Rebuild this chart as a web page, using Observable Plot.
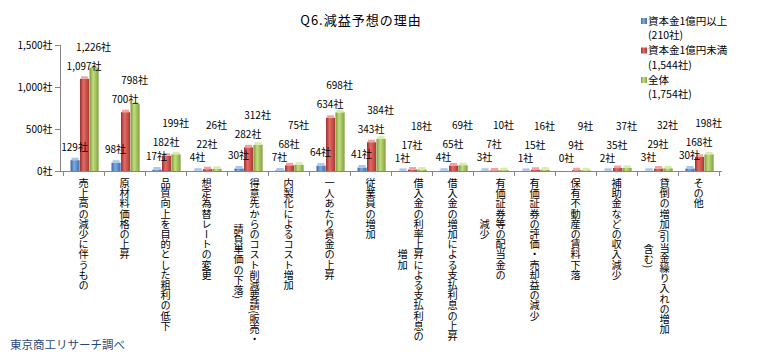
<!DOCTYPE html>
<html><head><meta charset="utf-8">
<script src="https://cdn.jsdelivr.net/npm/d3@7"></script>
<script src="https://cdn.jsdelivr.net/npm/@observablehq/plot@0.6"></script>
<style>body{margin:0;background:#fff} svg{display:block}</style>
</head><body><div id="chart"></div>
<script>
// ---- data ----
const categories = [
  "売上高の減少に伴うもの",
  "原材料価格の上昇",
  "品質向上を目的とした粗利の低下",
  "想定為替レートの変更",
  "得意先からのコスト削減要請(販売・\n請負単価の下落)",
  "内製化によるコスト増加",
  "一人あたり賃金の上昇",
  "従業員の増加",
  "借入金の利率上昇による支払利息の\n増加",
  "借入金の増加による支払利息の上昇",
  "有価証券等の配当金の\n減少",
  "有価証券の評価・売却益の減少",
  "保有不動産の賃料下落",
  "補助金などの収入減少",
  "貸倒の増加(引当金繰り入れの増加\n含む)",
  "その他"
];
const seriesNames = ["資本金1億円以上", "資本金1億円未満", "全体"];
const seriesTotals = ["(210社)", "(1,544社)", "(1,754社)"];
const largeCap = [129, 98, 17, 4, 30, 7, 64, 41, 1, 4, 3, 1, 0, 2, 3, 30];
const smallCap = [1097, 700, 182, 22, 282, 68, 634, 343, 17, 65, 7, 15, 9, 35, 29, 168];
const allCos   = [1226, 798, 199, 26, 312, 75, 698, 384, 18, 69, 10, 16, 9, 37, 32, 198];
const yTicks = [0, 500, 1000, 1500];
const chartTitle = "Q6.減益予想の理由";
const sourceNote = "東京商工リサーチ調べ";

// ---- layout ----
const W = 778, H = 362, mT = 45, mB = 191, mL = 60, mR = 56;
const yMax = 1500;
const step = (W - mL - mR) / categories.length;
const k = (H - mT - mB) / yMax; // px per unit
const FONT = "'Noto Sans CJK JP', 'Noto Sans', sans-serif";
const AXIS = "#868686";

const seriesValues = [largeCap, smallCap, allCos];
const seriesStyle = [
  {id: "gBlue",  stops: ["#3a659f", "#7eaae2", "#3f6eab"], cap: "#a9c6ec", x0: 7.5, x1: 17},
  {id: "gRed",   stops: ["#9c312e", "#e46a66", "#a83835"], cap: "#f0a3a1", x0: 17,  x1: 26.5},
  {id: "gGreen", stops: ["#7b9838", "#c2de7e", "#82a03f"], cap: "#d9ecae", x0: 26.5, x1: 36}
];

// label placement (stagger like the original)
const rows = seriesValues.map(() => []);
categories.forEach((cat, i) => {
  const b = largeCap[i] + 13 / k;
  const r = Math.max(smallCap[i] + 13 / k, b + 13 / k);
  const g = Math.max(allCos[i] + 13 / k, r + 19 / k);
  rows[0].push({cat, value: largeCap[i], ly: b});
  rows[1].push({cat, value: smallCap[i], ly: r});
  rows[2].push({cat, value: allCos[i], ly: g});
});
const fmt = d3.format(",");

function gradients() {
  const g = d3.create("svg:g");
  const defs = g.append("defs");
  seriesStyle.forEach(s => {
    const lg = defs.append("linearGradient").attr("id", s.id).attr("x1", 0).attr("x2", 1).attr("y1", 0).attr("y2", 0);
    lg.append("stop").attr("offset", "0%").attr("stop-color", s.stops[0]);
    lg.append("stop").attr("offset", "40%").attr("stop-color", s.stops[1]);
    lg.append("stop").attr("offset", "100%").attr("stop-color", s.stops[2]);
  });
  return g.node();
}

function axesLines(index, scales) {
  const x = scales.x, y = scales.y;
  const bw = typeof x.bandwidth === "function" ? x.bandwidth() : (x.bandwidth || 0);
  const g = d3.create("svg:g").attr("stroke", AXIS).attr("fill", "none").attr("shape-rendering", "crispEdges");
  const y0 = y(0);
  g.append("line").attr("x1", mL).attr("x2", mL).attr("y1", y(yMax)).attr("y2", y0);
  g.append("line").attr("x1", mL).attr("x2", W - mR).attr("y1", y0).attr("y2", y0);
  const bounds = categories.map(c => x(c)).concat([x(categories[categories.length - 1]) + bw]);
  bounds.forEach(bx => g.append("line").attr("x1", bx).attr("x2", bx).attr("y1", y0).attr("y2", y0 + 5));
  return g.node();
}

function categoryLabels(index, scales) {
  const x = scales.x;
  const bw = typeof x.bandwidth === "function" ? x.bandwidth() : (x.bandwidth || 0);
  const PITCH = 10.2, TOP = 178;
  const g = d3.create("svg:g").attr("font-family", FONT).attr("font-size", PITCH).attr("fill", "#000");
  categories.forEach(cat => {
    const lines = cat.split("\n");
    const cx = x(cat) + bw / 2;
    const maxLen = d3.max(lines, l => [...l].length);
    lines.forEach((line, j) => {
      const off = lines.length === 1 ? 0 : (j === 0 ? 7 : -9);
      g.append("text")
        .attr("x", cx + off)
        .attr("y", TOP + (maxLen - [...line].length) * PITCH / 2)
        .attr("text-anchor", "start")
        .style("writing-mode", "vertical-rl")
        .text(line);
    });
  });
  return g.node();
}

function decorations() {
  const g = d3.create("svg:g").attr("font-family", FONT).attr("fill", "#000").attr("text-anchor", "start");
  g.append("text").attr("x", 361).attr("y", 20).attr("dy", "0.35em").attr("text-anchor", "middle")
    .attr("font-size", 13).attr("letter-spacing", 1).text(chartTitle);
  seriesNames.forEach((name, i) => {
    const y0 = 21 + i * 29.5;
    g.append("rect").attr("x", 641).attr("y", y0 - 3).attr("width", 6).attr("height", 6)
      .attr("fill", `url(#${seriesStyle[i].id})`);
    g.append("text").attr("x", 648).attr("y", y0).attr("dy", "0.35em").attr("font-size", 10.5).text(name);
    g.append("text").attr("x", 648).attr("y", y0 + 14.5).attr("dy", "0.35em").attr("font-size", 10.5).text(seriesTotals[i]);
  });
  g.append("text").attr("x", 10).attr("y", 345).attr("dy", "0.35em").attr("font-size", 11.5)
    .attr("fill", "#1f497d").text(sourceNote);
  return g.node();
}

const marks = [gradients, axesLines];
seriesStyle.forEach((s, i) => {
  marks.push(Plot.barY(rows[i], {
    x: "cat", y: "value", fill: `url(#${s.id})`,
    insetLeft: s.x0, insetRight: step - s.x1
  }));
  // light top face of the 3D column
  marks.push(Plot.barY(rows[i].filter(d => d.value > 0), {
    x: "cat", y1: "value", y2: d => d.value + 2.5 / k, fill: s.cap,
    insetLeft: s.x0 + 1, insetRight: step - s.x1 + 1
  }));
});
seriesStyle.forEach((s, i) => {
  marks.push(Plot.text(rows[i], {
    x: "cat", y: "ly", text: d => fmt(d.value) + "社",
    dx: (s.x0 + s.x1) / 2 - step / 2 - 1, fontSize: 10, fill: "#000"
  }));
});
marks.push(Plot.axisY({
  ticks: yTicks, tickFormat: d => fmt(d) + "社", tickSize: 5, tickPadding: 3,
  stroke: AXIS, fontSize: 10, label: null
}));
marks.push(categoryLabels, decorations);

const chart = Plot.plot({
  width: W, height: H,
  marginTop: mT, marginBottom: mB, marginLeft: mL, marginRight: mR,
  style: {fontFamily: FONT, background: "#fff", color: "#000", overflow: "visible"},
  x: {type: "band", domain: categories, padding: 0, axis: null},
  y: {domain: [0, yMax], axis: null},
  marks
});
document.getElementById("chart").append(chart);
</script>
</body></html>
